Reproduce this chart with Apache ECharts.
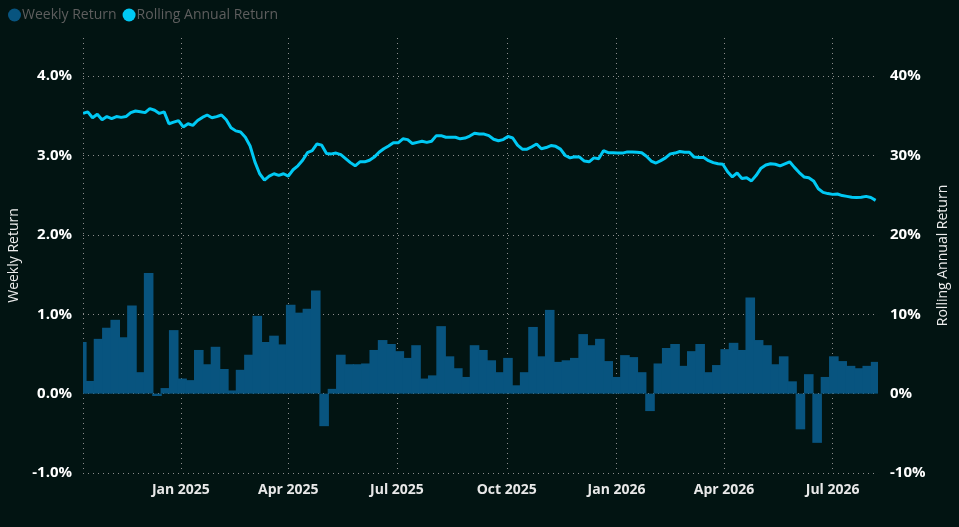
<!DOCTYPE html>
<html>
<head>
<meta charset="utf-8">
<title>Weekly Return / Rolling Annual Return</title>
<script src="https://cdn.jsdelivr.net/npm/echarts@6/dist/echarts.min.js"></script>
<style>
    html, body { margin: 0; padding: 0; background: #021412; }
    #chart { width: 959px; height: 527px; }
</style>
</head>
<body>
<div id="chart"></div>
<script>
// weekly bars, one per week starting 10 Oct 2024 (values in %)
var weekStart = [2024, 9, 10];
var weeklyReturn = [
    0.65, 0.16, 0.69, 0.83, 0.93, 0.71, 1.11, 0.27, 1.52, -0.03,
    0.07, 0.80, 0.19, 0.17, 0.55, 0.37, 0.59, 0.31, 0.04, 0.30,
    0.49, 0.98, 0.65, 0.73, 0.62, 1.12, 1.02, 1.07, 1.30, -0.41,
    0.06, 0.49, 0.37, 0.37, 0.38, 0.55, 0.675, 0.625, 0.535, 0.45,
    0.61, 0.19, 0.23, 0.85, 0.47, 0.32, 0.21, 0.61, 0.55, 0.42,
    0.27, 0.45, 0.105, 0.27, 0.84, 0.47, 1.055, 0.40, 0.42, 0.45,
    0.75, 0.61, 0.69, 0.41, 0.21, 0.485, 0.46, 0.27, -0.22, 0.38,
    0.575, 0.625, 0.35, 0.535, 0.625, 0.27, 0.36, 0.56, 0.64, 0.55,
    1.21, 0.675, 0.61, 0.37, 0.47, 0.155, -0.45, 0.245, -0.62, 0.21,
    0.47, 0.41, 0.35, 0.32, 0.35, 0.40
];

// rolling annual return, read every 4 days starting 11 Oct 2024 (values in %)
var rollStart = [2024, 9, 11];
var rollStep = 4;
var rollingReturn = [
    35.3, 35.5, 34.75, 35.2, 34.5, 34.9, 34.65, 34.9, 34.8, 34.9,
    35.4, 35.6, 35.5, 35.4, 35.9, 35.7, 35.3, 35.5, 34.0, 34.2,
    34.4, 33.6, 34.0, 33.8, 34.4, 34.8, 35.1, 34.75, 34.9, 35.1,
    34.5, 33.5, 33.1, 32.95, 32.3, 31.2, 29.2, 27.7, 26.9, 27.4,
    27.7, 27.5, 27.7, 27.4, 28.2, 28.7, 29.4, 30.35, 30.6, 31.45,
    31.3, 30.25, 30.2, 30.3, 30.1, 29.6, 29.1, 28.7, 29.2, 29.2,
    29.4, 29.8, 30.4, 30.85, 31.2, 31.6, 31.6, 32.1, 32.0, 31.5,
    31.65, 31.8, 31.65, 31.8, 32.5, 32.5, 32.3, 32.3, 32.3, 32.1,
    32.2, 32.45, 32.8, 32.7, 32.7, 32.5, 32.05, 31.85, 32.0, 32.4,
    32.2, 31.3, 30.8, 30.8, 31.1, 31.45, 30.85, 31.0, 31.25, 31.15,
    30.8, 30.0, 29.7, 29.85, 29.8, 29.3, 29.2, 29.7, 29.6, 30.6,
    30.35, 30.35, 30.3, 30.3, 30.45, 30.45, 30.4, 30.35, 29.9, 29.3,
    29.05, 29.35, 29.7, 30.2, 30.3, 30.5, 30.4, 30.4, 29.8, 29.75,
    29.75, 29.35, 29.1, 28.95, 28.9, 27.95, 27.3, 27.8, 27.1, 27.2,
    26.8, 27.5, 28.4, 28.8, 28.95, 28.9, 28.7, 28.95, 29.2, 28.5,
    27.85, 27.3, 27.2, 26.8, 25.8, 25.35, 25.2, 25.1, 25.15, 24.95,
    24.85, 24.75, 24.7, 24.75, 24.85, 24.7, 24.35
];

var monthNames = ['Jan', 'Feb', 'Mar', 'Apr', 'May', 'Jun', 'Jul', 'Aug', 'Sep', 'Oct', 'Nov', 'Dec'];

function dayAt(start, offset) {
    return new Date(start[0], start[1], start[2] + offset).getTime();
}

var barData = weeklyReturn.map(function (v, i) { return [dayAt(weekStart, i * 7), v]; });
var lineData = rollingReturn.map(function (v, i) { return [dayAt(rollStart, i * rollStep), v]; });

var DAY = 24 * 3600 * 1000;
var xMin = dayAt([2024, 9, 11], 0);
var xMax = dayAt([2026, 7, 8], 0);
var bg = '#021412';
var gridLeft = 83, gridRight = 81, gridTop = 38, gridBottom = 54;
var gridLine = { color: '#8c8c8c', width: 1, type: [1, 4] };
var font = 'Open Sans, Noto Sans, sans-serif';

var myChart = echarts.init(document.getElementById('chart'));
var W = myChart.getWidth(), H = myChart.getHeight();
var plotRight = W - gridRight;
var plotH = H - gridTop - gridBottom;

var option = {
    backgroundColor: bg,
    textStyle: { fontFamily: font },
    animation: false,
    legend: {
        left: 3,
        top: 3,
        icon: 'circle',
        itemWidth: 13,
        itemHeight: 13,
        itemGap: 6,
        textStyle: { color: '#5e5e5e', fontSize: 14, padding: [0, 0, 0, -4] },
        data: ['Weekly Return', 'Rolling Annual Return']
    },
    grid: {
        left: gridLeft,
        right: gridRight,
        top: gridTop,
        bottom: gridBottom,
        containLabel: false,
        outerBoundsMode: 'none'
    },
    // the end bars hang over the plot edges; mask the overhang like the original clip
    graphic: [
        { type: 'rect', z: 100, silent: true, shape: { x: gridLeft - 10, y: gridTop - 2, width: 10, height: plotH + 4 }, style: { fill: bg } },
        { type: 'rect', z: 100, silent: true, shape: { x: plotRight, y: gridTop - 2, width: 10, height: plotH + 4 }, style: { fill: bg } }
    ],
    xAxis: {
        type: 'time',
        min: xMin,
        max: xMax,
        splitNumber: 7,
        minInterval: 85 * DAY,
        maxInterval: 100 * DAY,
        axisLine: { show: false },
        axisTick: { show: false },
        splitLine: { show: true, lineStyle: gridLine },
        axisLabel: {
            color: '#e8e8e8',
            fontSize: 14,
            fontWeight: 'bold',
            margin: 10,
            formatter: function (val) {
                var d = new Date(val);
                return monthNames[d.getMonth()] + ' ' + d.getFullYear();
            }
        }
    },
    yAxis: [
        {
            type: 'value',
            name: 'Weekly Return',
            nameLocation: 'middle',
            nameGap: 62,
            nameTextStyle: { color: '#ececec', fontSize: 14 },
            min: -1,
            max: 4.48,
            interval: 1,
            axisLine: { show: false },
            axisTick: { show: false },
            splitLine: { show: true, showMaxLine: false, lineStyle: gridLine },
            axisLabel: {
                color: '#ffffff',
                fontSize: 15,
                fontWeight: 'bold',
                margin: 11,
                showMaxLabel: false,
                formatter: function (v) { return v.toFixed(1) + '%'; }
            }
        },
        {
            type: 'value',
            name: 'Rolling Annual Return',
            nameLocation: 'middle',
            nameGap: 54,
            nameTextStyle: { color: '#ececec', fontSize: 14 },
            min: -10,
            max: 44.8,
            interval: 10,
            axisLine: { show: false },
            axisTick: { show: false },
            splitLine: { show: false },
            axisLabel: {
                color: '#ffffff',
                fontSize: 15,
                fontWeight: 'bold',
                margin: 12,
                showMaxLabel: false,
                formatter: function (v) { return v + '%'; }
            }
        }
    ],
    series: [
        {
            name: 'Weekly Return',
            type: 'bar',
            yAxisIndex: 0,
            data: barData,
            barWidth: 9.6,
            clip: true,
            itemStyle: { color: '#08547f' }
        },
        {
            name: 'Rolling Annual Return',
            type: 'line',
            yAxisIndex: 1,
            data: lineData,
            symbol: 'none',
            z: 5,
            itemStyle: { color: '#00c9f4' },
            lineStyle: { color: '#00c9f4', width: 3 }
        }
    ]
};
myChart.setOption(option);

// echarts 6 widens a time axis by half a bar on each side when it carries bars;
// pull min/max in by that much so the visible range is exactly xMin..xMax
var seenMin = myChart.convertFromPixel({ xAxisIndex: 0 }, gridLeft);
var seenMax = myChart.convertFromPixel({ xAxisIndex: 0 }, plotRight);
var k = (xMax - xMin) / (seenMax - seenMin);
myChart.setOption({
    xAxis: {
        min: xMin + (xMin - seenMin) * k,
        max: xMax - (seenMax - xMax) * k
    }
});
</script>
</body>
</html>
